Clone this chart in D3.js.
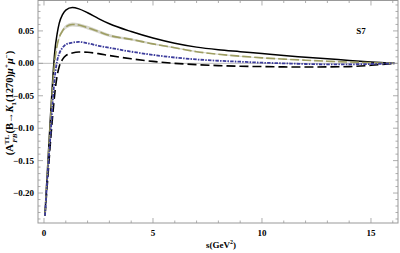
<!DOCTYPE html>
<html>
<head>
<meta charset="utf-8">
<script src="https://cdn.jsdelivr.net/npm/d3@7"></script>
<style>
  body { margin: 0; background: #fff; }
  svg { display: block; }
  text { font-family: "Liberation Serif", "DejaVu Serif", serif; font-weight: bold; }
</style>
</head>
<body>
<div id="chart"></div>
<script>
var sValues = [0.045, 0.1, 0.2, 0.3, 0.4, 0.5, 0.6, 0.7, 0.85, 1.0, 1.3, 1.6, 2.0, 2.5, 3, 4, 5, 6, 7, 8, 9, 10, 11, 12, 13, 14, 15, 16.08];

// black solid
var solidValues = [-0.235, -0.20, -0.14, -0.08, -0.025, 0.02, 0.045, 0.062, 0.075, 0.082, 0.086, 0.084, 0.078, 0.069, 0.061, 0.049, 0.039, 0.031, 0.025, 0.021, 0.018, 0.015, 0.012, 0.0095, 0.007, 0.0045, 0.002, 0];
// olive dashed (with grey band)
var oliveValues = [-0.235, -0.20, -0.145, -0.088, -0.035, 0.005, 0.027, 0.040, 0.050, 0.056, 0.060, 0.059, 0.055, 0.049, 0.043, 0.037, 0.030, 0.024, 0.018, 0.014, 0.011, 0.0085, 0.0065, 0.0048, 0.0033, 0.002, 0.001, 0];
var oliveBand = [0.001, 0.002, 0.003, 0.003, 0.003, 0.003, 0.003, 0.003, 0.003, 0.003, 0.003, 0.003, 0.0028, 0.0025, 0.0022, 0.0018, 0.0015, 0.0012, 0.001, 0.0008, 0.0007, 0.0006, 0.0005, 0.0004, 0.0003, 0.0002, 0.0001, 0];
// blue dot-dashed
var blueValues = [-0.235, -0.205, -0.155, -0.11, -0.06, -0.02, 0.003, 0.015, 0.024, 0.029, 0.032, 0.033, 0.031, 0.027, 0.024, 0.018, 0.013, 0.009, 0.006, 0.004, 0.0025, 0.001, 0.0, -0.001, -0.0015, -0.0015, -0.001, 0];
// black long dashed
var dashedValues = [-0.235, -0.21, -0.165, -0.12, -0.08, -0.045, -0.02, -0.005, 0.006, 0.012, 0.016, 0.0175, 0.017, 0.015, 0.012, 0.007, 0.003, 0.0, -0.002, -0.0035, -0.0045, -0.005, -0.0055, -0.0057, -0.0055, -0.005, -0.003, 0];

var xTicks = [0, 5, 10, 15];
var yTicks = [-0.20, -0.15, -0.10, -0.05, 0.00, 0.05];

var width = 400, height = 253;
var mLeft = 38, mRight = 398, mTop = 0.5, mBottom = 223;

var svg = d3.select('#chart').append('svg')
  .attr('width', width)
  .attr('height', height);

var x = d3.scaleLinear().domain([-0.275, 16.24]).range([mLeft, mRight]);
var y = d3.scaleLinear().domain([-0.2462, 0.0969]).range([mBottom, mTop]);

function series(vals) {
  return sValues.map(function (s, i) { return {s: s, v: vals[i], i: i}; });
}

var line = d3.line()
  .x(function (d) { return x(d.s); })
  .y(function (d) { return y(d.v); })
  .curve(d3.curveMonotoneX);

// zero line
svg.append('line')
  .attr('x1', mLeft).attr('x2', mRight)
  .attr('y1', y(0)).attr('y2', y(0))
  .attr('stroke', '#aaa').attr('stroke-width', 0.8);

var plot = svg.append('g');

// band around olive curve
plot.append('path')
  .datum(series(oliveValues))
  .attr('fill', '#d6d6cc')
  .attr('d', d3.area()
    .x(function (d) { return x(d.s); })
    .y0(function (d) { return y(d.v - oliveBand[d.i]); })
    .y1(function (d) { return y(d.v + oliveBand[d.i]); })
    .curve(d3.curveMonotoneX));

plot.append('path')
  .datum(series(dashedValues))
  .attr('fill', 'none').attr('stroke', '#000')
  .attr('stroke-width', 1.6).attr('stroke-dasharray', '9,4')
  .attr('d', line);

plot.append('path')
  .datum(series(solidValues))
  .attr('fill', 'none').attr('stroke', '#000')
  .attr('stroke-width', 1.5)
  .attr('d', line);

plot.append('path')
  .datum(series(oliveValues))
  .attr('fill', 'none').attr('stroke', '#9e9e62')
  .attr('stroke-width', 1.6).attr('stroke-dasharray', '9,3')
  .attr('d', line);

plot.append('path')
  .datum(series(blueValues))
  .attr('fill', 'none').attr('stroke', '#3c3c9c')
  .attr('stroke-width', 1.8).attr('stroke-dasharray', '3.5,1.2,1.5,1.2')
  .attr('d', line);

// frame
svg.append('rect')
  .attr('x', mLeft).attr('y', mTop)
  .attr('width', mRight - mLeft).attr('height', mBottom - mTop)
  .attr('fill', 'none').attr('stroke', '#999').attr('stroke-width', 1);

// ticks, pointing inwards on all four sides
var ticks = svg.append('g').attr('stroke', '#999').attr('stroke-width', 0.8);
d3.range(0, 17, 1).forEach(function (s) {
  var len = s % 5 === 0 ? 5 : 2.5;
  ticks.append('line').attr('x1', x(s)).attr('x2', x(s)).attr('y1', mBottom).attr('y2', mBottom - len);
  ticks.append('line').attr('x1', x(s)).attr('x2', x(s)).attr('y1', mTop).attr('y2', mTop + len);
});
d3.range(-24, 10, 1).forEach(function (k) {
  var v = k / 100, len = k % 5 === 0 ? 5 : 2.5;
  ticks.append('line').attr('x1', mLeft).attr('x2', mLeft + len).attr('y1', y(v)).attr('y2', y(v));
  ticks.append('line').attr('x1', mRight).attr('x2', mRight - len).attr('y1', y(v)).attr('y2', y(v));
});

// tick labels
svg.append('g').selectAll('text').data(xTicks).enter().append('text')
  .attr('x', function (d) { return x(d); })
  .attr('y', 236)
  .attr('text-anchor', 'middle')
  .attr('font-size', 9)
  .text(function (d) { return d; });

svg.append('g').selectAll('text').data(yTicks).enter().append('text')
  .attr('x', 34)
  .attr('y', function (d) { return y(d) + 3; })
  .attr('text-anchor', 'end')
  .attr('font-size', 9)
  .text(function (d) { return d3.format('.2f')(d).replace('-', '\u2212'); });

// axis titles
var xt = svg.append('text')
  .attr('x', 221).attr('y', 248)
  .attr('text-anchor', 'middle')
  .attr('font-size', 9)
  .text('s(GeV');
xt.append('tspan').attr('dy', -4).attr('font-size', 6).text('2');
xt.append('tspan').attr('dy', 4).text(')');

var yt = svg.append('text')
  .attr('transform', 'translate(13,103) rotate(-90)')
  .attr('text-anchor', 'middle')
  .attr('font-size', 10.5);
yt.append('tspan').text('(A');
yt.append('tspan').attr('dy', -4.5).attr('font-size', 7).text('TL');
yt.append('tspan').attr('dx', -8).attr('dy', 8).attr('font-size', 7).attr('font-style', 'italic').text('FB');
yt.append('tspan').attr('dy', -3.5).text('(B\u2192');
yt.append('tspan').attr('font-style', 'italic').text('K');
yt.append('tspan').attr('dy', 2.5).attr('font-size', 7).text('1');
yt.append('tspan').attr('dy', -2.5).text('(1270)');
yt.append('tspan').attr('font-style', 'italic').text('\u03bc');
yt.append('tspan').attr('dy', -4.5).attr('font-size', 7).text('+');
yt.append('tspan').attr('dy', 4.5).attr('font-style', 'italic').text('\u03bc');
yt.append('tspan').attr('dy', -4.5).attr('font-size', 7).text('\u2212');
yt.append('tspan').attr('dy', 4.5).text(')');

// panel label
svg.append('text')
  .attr('x', 361).attr('y', 34)
  .attr('text-anchor', 'middle')
  .attr('font-size', 9)
  .text('S7');
</script>
</body>
</html>
